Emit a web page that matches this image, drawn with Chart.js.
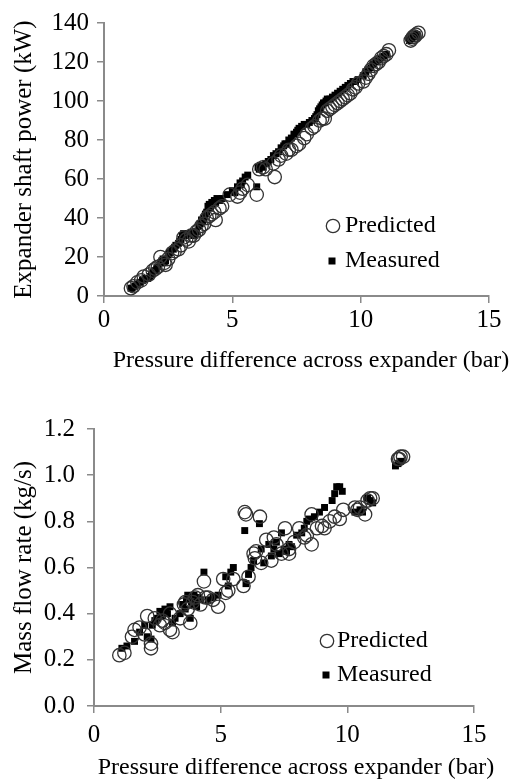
<!DOCTYPE html>
<html>
<head>
<meta charset="utf-8">
<script src="https://cdn.jsdelivr.net/npm/chart.js@4.4.1/dist/chart.umd.min.js"></script>
<style>
html, body { margin: 0; padding: 0; background: #fff; }
.box { position: absolute; left: 0; width: 530px; height: 390px; }
</style>
</head>
<body>
<div class="box" style="top:0"><canvas id="powerChart" width="530" height="390"></canvas></div>
<div class="box" style="top:390px"><canvas id="flowChart" width="530" height="390"></canvas></div>
<script>
// tick labels
const pressureTicks = [0, 5, 10, 15];
const powerTicks = [0, 20, 40, 60, 80, 100, 120, 140];
const flowTicks = [0, 0.2, 0.4, 0.6, 0.8, 1.0, 1.2];
const seriesNames = ['Predicted', 'Measured'];
const xTitle = 'Pressure difference across expander (bar)';

// expander shaft power (kW) vs pressure difference (bar)
const powerPredX = [1.05,1.15,1.3,1.45,1.55,1.75,1.9,2.0,2.1,2.2,2.35,2.4,2.5,2.65,2.75,2.9,3.0,3.1,3.2,3.3,3.4,3.5,3.6,3.7,3.8,3.9,4.0,4.1,4.2,4.3,4.35,4.5,4.6,4.9,5.2,5.3,5.4,5.6,5.95,6.05,6.2,6.3,6.65,6.6,6.8,6.9,7.1,7.2,7.3,7.5,7.6,7.8,7.9,8.1,8.2,8.4,8.5,8.6,8.7,8.8,8.9,9.0,9.1,9.2,9.3,9.4,9.5,9.6,9.7,9.8,9.9,10.1,10.2,10.3,10.4,10.5,10.6,10.7,10.8,10.9,11.0,11.1,11.95,12.0,12.05,12.1,12.15,12.25];
const powerPredY = [4,5,7,8,10,11,13,14,15,20,17,16,19,22,23,24,26,30,29,28,31,31,33,34,36,37,40,41,42,43,39,45,46,52,51,53,55,57,52,65,66,65,61,68,70,72,73,75,75,77,78,81,83,86,87,90,91,91,95,96,97,98,99,100,101,102,103,104,106,107,109,110,112,114,116,118,119,120,122,123,124,126,131,132,133,133,134,135];
const powerMeasX = [1.05,1.1,1.2,1.3,1.4,1.5,1.6,1.7,1.8,1.85,1.9,2.0,2.05,2.1,2.2,2.25,2.3,2.35,2.4,2.5,2.55,2.6,2.7,2.75,2.8,2.9,2.95,3.0,3.05,3.1,3.2,3.3,3.4,3.5,3.55,3.6,3.7,3.75,3.8,3.85,3.9,3.95,4.0,4.05,4.1,4.15,4.2,4.25,4.3,4.35,4.4,4.5,4.6,4.8,5.0,5.1,5.2,5.3,5.35,5.4,5.5,5.6,5.95,6.0,6.05,6.1,6.2,6.3,6.4,6.5,6.6,6.7,6.8,6.9,7.0,7.05,7.1,7.2,7.3,7.4,7.5,7.55,7.6,7.7,7.8,7.9,8.0,8.1,8.2,8.25,8.3,8.35,8.4,8.45,8.5,8.55,8.6,8.65,8.7,8.8,8.9,9.0,9.1,9.2,9.3,9.4,9.5,9.6,9.7,9.8,9.9,10.1,10.2,10.3,10.4,10.5,10.6,10.7,10.8,10.9,11.0,11.9,11.95,12.0,12.05,12.1,12.15,12.2];
const powerMeasY = [4,4,5,6,7,8,9,9,10,11,12,13,14,15,17,18,19,17,18,21,22,23,24,25,26,27,28,29,31,32,31,32,32,31,32,33,36,37,39,38,40,42,43,46,47,45,48,47,49,48,50,49,50,52,54,53,56,58,57,59,61,62,56,66,65,67,66,68,69,70,72,73,74,76,77,78,78,80,81,83,84,85,86,87,88,88,89,90,91,92,93,95,96,97,98,99,99,100,101,101,102,103,104,105,106,107,108,109,110,110,111,113,115,116,117,119,120,121,122,123,124,131,132,132,133,133,134,134];

// mass flow rate (kg/s) vs pressure difference (bar)
const flowPredX = [1.0,1.2,1.5,1.6,1.8,2.0,2.1,2.25,2.25,2.4,2.6,2.7,2.8,3.0,3.1,3.0,3.4,3.55,3.6,3.7,3.8,3.9,4.0,4.1,4.2,4.34,4.4,4.5,4.7,4.9,5.1,5.2,5.3,5.5,5.95,6.0,5.9,6.1,6.3,6.35,6.4,6.55,6.6,6.8,7.0,7.1,7.2,7.4,7.54,7.7,7.7,7.9,8.1,8.3,8.4,8.59,8.59,8.8,9.0,9.1,9.3,9.5,9.7,9.84,10.3,10.4,10.5,10.7,10.8,10.9,11.0,12.0,12.05,12.1,12.2];
const flowPredY = [0.22,0.23,0.30,0.33,0.34,0.31,0.39,0.27,0.25,0.38,0.35,0.37,0.36,0.33,0.32,0.40,0.38,0.44,0.45,0.42,0.36,0.45,0.47,0.48,0.44,0.54,0.47,0.47,0.46,0.43,0.55,0.49,0.50,0.55,0.84,0.83,0.52,0.56,0.66,0.64,0.67,0.82,0.62,0.72,0.63,0.73,0.70,0.66,0.77,0.68,0.66,0.71,0.77,0.73,0.74,0.83,0.70,0.77,0.78,0.77,0.80,0.82,0.81,0.85,0.86,0.85,0.86,0.83,0.89,0.90,0.90,1.07,1.07,1.08,1.08];
const flowMeasX = [1.1,1.3,1.6,1.8,2.0,2.1,2.25,2.3,2.4,2.5,2.6,2.7,2.8,2.85,2.9,3.0,3.1,3.2,3.4,3.5,3.6,3.65,3.7,3.75,3.8,3.85,3.9,3.95,4.0,4.05,4.1,4.2,4.34,4.5,4.7,4.9,5.2,5.3,5.4,5.5,5.95,6.0,6.1,6.2,6.3,6.53,6.6,6.7,6.9,7.0,7.1,7.2,7.3,7.4,7.5,7.6,7.7,7.8,8.0,8.2,8.3,8.4,8.5,8.7,8.9,9.1,9.4,9.5,9.58,9.7,9.8,10.3,10.5,10.6,10.8,10.9,11.0,11.9,12.0,12.1];
const flowMeasY = [0.25,0.26,0.28,0.32,0.35,0.30,0.29,0.35,0.37,0.38,0.41,0.39,0.42,0.41,0.40,0.43,0.36,0.38,0.40,0.44,0.42,0.46,0.48,0.47,0.38,0.45,0.44,0.48,0.45,0.43,0.47,0.46,0.58,0.46,0.47,0.48,0.56,0.52,0.58,0.60,0.76,0.53,0.57,0.60,0.63,0.79,0.68,0.62,0.70,0.65,0.68,0.71,0.66,0.75,0.68,0.67,0.70,0.69,0.74,0.75,0.77,0.80,0.81,0.82,0.84,0.86,0.89,0.92,0.95,0.95,0.93,0.84,0.85,0.84,0.90,0.89,0.88,1.04,1.05,1.06];

const FONT = '"Liberation Serif", "Times New Roman", serif';
const AXIS = '#8a8a8a';
const INK = '#000';

function pairs(xs, ys) {
  return xs.map((x, i) => ({x: x, y: ys[i]}));
}

// legend inside the plot area + the x axis caption
const insideLegend = {
  id: 'insideLegend',
  afterDatasetsDraw(chart, args, opts) {
    const ctx = chart.ctx;
    const ds = chart.data.datasets;
    ctx.save();
    ctx.font = '24px ' + FONT;
    ctx.textBaseline = 'middle';
    ctx.beginPath();
    ctx.arc(opts.cx, opts.y1, 6.7, 0, Math.PI * 2);
    ctx.strokeStyle = '#333';
    ctx.lineWidth = 1.3;
    ctx.stroke();
    ctx.fillStyle = '#000';
    ctx.fillRect(opts.sx - 3.5, opts.y2 - 3.5, 7, 7);
    ctx.fillStyle = INK;
    ctx.fillText(ds[0].label, opts.tx, opts.y1);
    ctx.fillText(ds[1].label, opts.tx, opts.y2);
    // x caption
    ctx.textAlign = 'center';
    ctx.fillText(xTitle, opts.capX, opts.capY);
    ctx.restore();
  }
};

function makeChart(id, cfg) {
  return new Chart(document.getElementById(id), {
    type: 'scatter',
    data: {
      datasets: [
        {
          label: seriesNames[0],
          data: pairs(cfg.predX, cfg.predY),
          pointStyle: 'circle',
          pointRadius: 6.7,
          pointHoverRadius: 6.7,
          backgroundColor: 'rgba(255,255,255,0)',
          borderColor: '#333',
          borderWidth: 1.3
        },
        {
          label: seriesNames[1],
          data: pairs(cfg.measX, cfg.measY),
          pointStyle: 'rect',
          pointRadius: 4.9,
          pointHoverRadius: 4.9,
          backgroundColor: '#000',
          borderColor: '#000',
          borderWidth: 0
        }
      ]
    },
    options: {
      responsive: false,
      animation: false,
      layout: { padding: cfg.padding },
      plugins: {
        legend: { display: false },
        tooltip: { enabled: false },
        insideLegend: cfg.legend
      },
      scales: {
        x: {
          type: 'linear',
          min: 0, max: 15,
          afterBuildTicks: s => { s.ticks = pressureTicks.map(v => ({value: v})); },
          afterFit: s => { s.height = cfg.xHeight; },
          grid: { drawOnChartArea: false, drawTicks: true, tickLength: 7, color: AXIS, lineWidth: 1.5 },
          border: { color: AXIS, width: 2 },
          ticks: { color: INK, font: { family: FONT, size: 25 }, padding: cfg.xPad, maxRotation: 0 },
          title: { display: false }
        },
        y: {
          type: 'linear',
          min: cfg.yTicks[0], max: cfg.yTicks[cfg.yTicks.length - 1],
          afterBuildTicks: s => { s.ticks = cfg.yTicks.map(v => ({value: v})); },
          afterFit: s => { s.width = cfg.yWidth; },
          grid: { drawOnChartArea: false, drawTicks: true, tickLength: 7, color: AXIS, lineWidth: 1.5 },
          border: { color: AXIS, width: 2 },
          ticks: {
            color: INK, font: { family: FONT, size: 25 }, padding: cfg.yPad,
            callback: v => cfg.yFmt(v)
          },
          title: {
            display: true,
            text: cfg.yTitle,
            color: INK,
            font: { family: FONT, size: 25, lineHeight: 1 },
            padding: { top: 12, bottom: 0 }
          }
        }
      }
    },
    plugins: [insideLegend]
  });
}

makeChart('powerChart', {
  predX: powerPredX, predY: powerPredY, measX: powerMeasX, measY: powerMeasY,
  yTicks: powerTicks, yFmt: v => String(v),
  yTitle: 'Expander shaft power (kW)',
  padding: { top: 16, right: 41, left: 0, bottom: 0 },
  xHeight: 94, yWidth: 104, xPad: 2, yPad: 8,
  legend: { cx: 333, sx: 332, tx: 345, y1: 226, y2: 261, capX: 311, capY: 361 }
});

makeChart('flowChart', {
  predX: flowPredX, predY: flowPredY, measX: flowMeasX, measY: flowMeasY,
  yTicks: flowTicks, yFmt: v => v.toFixed(1),
  yTitle: 'Mass flow rate (kg/s)',
  padding: { top: 39, right: 56, left: 0, bottom: 0 },
  xHeight: 74, yWidth: 94, xPad: 7, yPad: 12,
  legend: { cx: 327, sx: 326, tx: 337, y1: 251, y2: 285, capX: 296, capY: 378 }
});
</script>
</body>
</html>
